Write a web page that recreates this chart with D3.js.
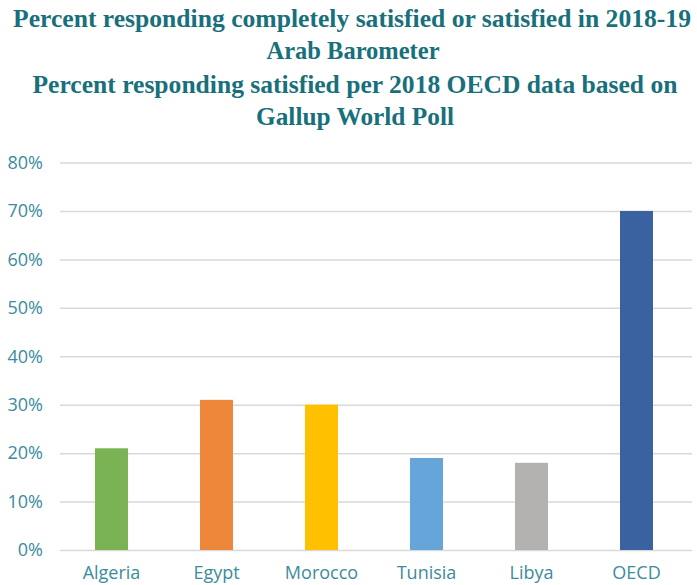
<!DOCTYPE html>
<html><head><meta charset="utf-8">
<script src="https://cdn.jsdelivr.net/npm/d3@7"></script>
<style>body{margin:0;background:#fff}</style>
</head><body>
<svg id="c" width="697" height="585"></svg>
<script>
const categories = ["Algeria","Egypt","Morocco","Tunisia","Libya","OECD"];
const values = [21, 31, 30, 19, 18, 70];
const barColors = ["#7AB353","#EE873A","#FFC000","#66A5DA","#B3B2B1","#3A61A0"];
const yTicks = [0,10,20,30,40,50,60,70,80];
const titleLines = [
  "Percent responding completely satisfied or satisfied in 2018-19",
  "Arab Barometer",
  "Percent responding satisfied per 2018 OECD data based on",
  "Gallup World Poll"
];

const svg = d3.select("#c");
const x = d3.scaleBand().domain(categories).range([59, 689]).paddingInner(0.686).paddingOuter(0.343);
const y = d3.scaleLinear().domain([0, 80]).range([550, 162.5]);

// title
const tw = [678, 173, 645, 198];
const tx = [352, 353, 355, 355];
const ty = [27, 59, 93, 125];
titleLines.forEach((t, i) => {
  svg.append("text").attr("x", tx[i]).attr("y", ty[i]).attr("text-anchor", "middle")
    .attr("font-family", "Liberation Serif, DejaVu Serif, serif").attr("font-weight", "bold")
    .attr("font-size", 25).attr("fill", "#17707B")
    .attr("textLength", tw[i]).attr("lengthAdjust", "spacingAndGlyphs").text(t);
});

// gridlines
const grid = d3.axisLeft(y).tickValues(yTicks).tickSize(-(692 - 60)).tickFormat("");
svg.append("g").attr("transform", "translate(60,0)").call(grid)
  .call(g => g.select(".domain").remove())
  .call(g => g.selectAll("line").attr("stroke", "#D9D9D9").attr("stroke-width", 1.5));

// y labels
const yAxis = d3.axisLeft(y).tickValues(yTicks).tickSize(0).tickPadding(0).tickFormat(d => d + "%");
svg.append("g").attr("transform", "translate(43,0)").call(yAxis)
  .call(g => g.select(".domain").remove())
  .call(g => g.selectAll("text").attr("font-family", "Open Sans, sans-serif").attr("font-size", 18).attr("fill", "#3B8C9C"));

// bars
svg.append("g").selectAll("rect").data(categories).join("rect")
  .attr("x", d => x(d)).attr("width", x.bandwidth())
  .attr("y", (d, i) => y(values[i])).attr("height", (d, i) => y(0) - y(values[i]))
  .attr("fill", (d, i) => barColors[i]);

// x labels
const xAxis = d3.axisBottom(x).tickSize(0).tickPadding(0);
svg.append("g").attr("transform", "translate(0,566)").call(xAxis)
  .call(g => g.select(".domain").remove())
  .call(g => g.selectAll("text").attr("font-family", "Open Sans, sans-serif").attr("font-size", 18).attr("fill", "#3B8C9C"));
</script>
</body></html>
